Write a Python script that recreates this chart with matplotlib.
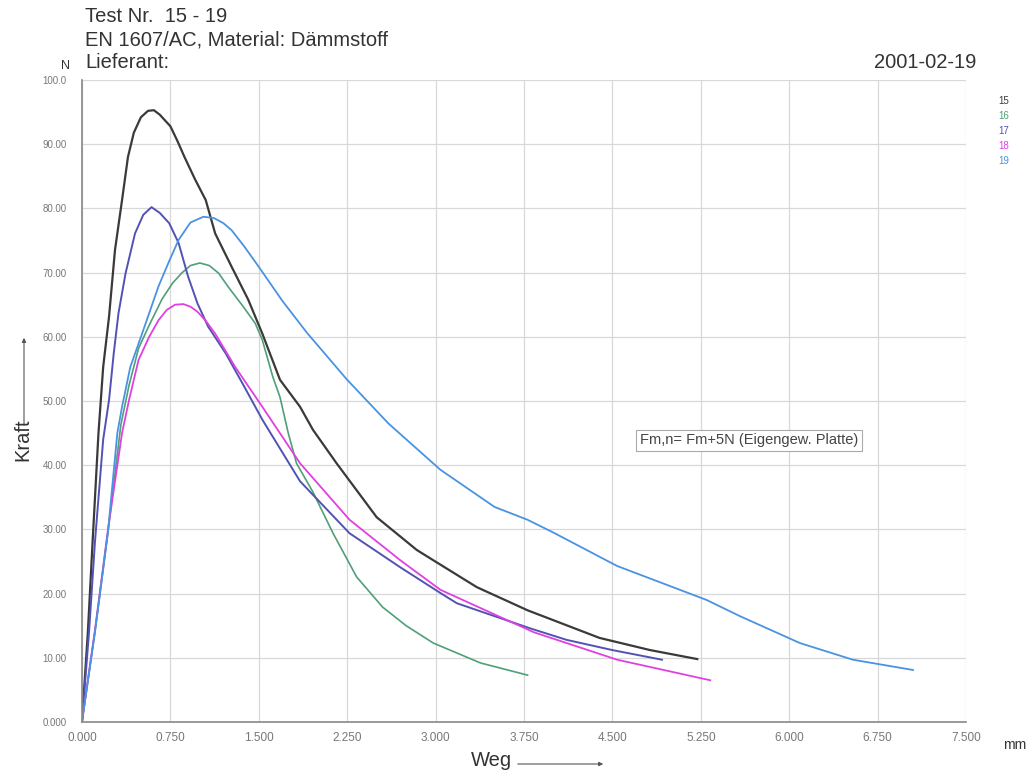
import matplotlib
matplotlib.use("Agg")
import matplotlib.pyplot as plt

plt.rcParams['font.family'] = ['Liberation Sans', 'DejaVu Sans']

# Kraft-Weg Kurven, Test 15 - 19
x15 = [0, 0.05, 0.09, 0.14, 0.18, 0.23, 0.28, 0.34, 0.39, 0.44, 0.50, 0.56, 0.61, 0.66, 0.75,
       0.81, 0.87, 0.96, 1.05, 1.13, 1.27, 1.41, 1.53, 1.68, 1.85, 1.96, 2.16, 2.50, 2.84, 2.98,
       3.35, 3.78, 4.39, 4.82, 5.22]
y15 = [0, 14.0, 28.0, 45.0, 55.3, 63.2, 73.5, 81.3, 88.0, 91.8, 94.2, 95.2, 95.3, 94.6, 92.8,
       90.5, 88.0, 84.5, 81.3, 76.1, 70.9, 65.8, 60.5, 53.3, 49.1, 45.5, 40.3, 31.9, 26.8, 25.2,
       21.0, 17.4, 13.1, 11.2, 9.8]

x16 = [0, 0.11, 0.22, 0.33, 0.40, 0.48, 0.57, 0.68, 0.77, 0.85, 0.92, 1.00, 1.08, 1.16, 1.24,
       1.36, 1.47, 1.53, 1.62, 1.68, 1.75, 1.82, 1.96, 2.13, 2.33, 2.55, 2.75, 2.98, 3.38, 3.78]
y16 = [0, 14.0, 29.5, 46.3, 52.5, 58.2, 61.8, 65.9, 68.4, 70.0, 71.1, 71.5, 71.1, 69.9, 67.8,
       64.9, 62.1, 59.5, 53.7, 50.6, 45.0, 40.3, 35.8, 29.4, 22.6, 17.9, 15.0, 12.3, 9.2, 7.3]

x17 = [0, 0.06, 0.11, 0.18, 0.23, 0.27, 0.31, 0.37, 0.45, 0.52, 0.59, 0.66, 0.74, 0.82, 0.90,
       0.98, 1.07, 1.22, 1.36, 1.53, 1.85, 2.27, 2.70, 3.04, 3.18, 3.80, 4.11, 4.50, 4.92]
y17 = [0, 14.0, 28.0, 44.0, 50.2, 57.5, 63.7, 69.9, 76.1, 79.0, 80.2, 79.3, 77.7, 74.6, 69.4,
       65.2, 61.6, 57.4, 52.8, 47.1, 37.5, 29.4, 24.1, 20.1, 18.5, 14.6, 12.8, 11.2, 9.7]

x18 = [0, 0.11, 0.22, 0.34, 0.40, 0.48, 0.57, 0.65, 0.72, 0.79, 0.86, 0.92, 0.98, 1.05, 1.13,
       1.30, 1.53, 1.85, 2.27, 2.70, 3.04, 3.83, 4.54, 5.33]
y18 = [0, 14.3, 29.9, 45.0, 50.2, 56.4, 60.0, 62.6, 64.2, 65.0, 65.1, 64.7, 63.9, 62.5, 60.5,
       55.3, 49.1, 40.3, 31.5, 25.2, 20.6, 14.0, 9.7, 6.5]

x19 = [0, 0.11, 0.22, 0.30, 0.34, 0.41, 0.51, 0.65, 0.74, 0.82, 0.92, 1.03, 1.12, 1.20, 1.27,
       1.38, 1.50, 1.70, 1.91, 2.25, 2.60, 3.04, 3.50, 3.78, 4.00, 4.54, 5.30, 5.58, 6.09, 6.54,
       7.05]
y19 = [0, 14.0, 29.5, 45.0, 49.1, 55.3, 60.5, 67.9, 71.8, 75.1, 77.8, 78.7, 78.5, 77.7, 76.6,
       74.0, 70.9, 65.6, 60.6, 53.3, 46.5, 39.3, 33.5, 31.5, 29.5, 24.3, 19.0, 16.5, 12.3, 9.7,
       8.1]

serien = [("15", x15, y15, "#3a3a3a", 1.6),
          ("16", x16, y16, "#4f9f78", 1.2),
          ("17", x17, y17, "#5252b4", 1.4),
          ("18", x18, y18, "#e040e0", 1.3),
          ("19", x19, y19, "#4a92e2", 1.3)]

x_ticks = [0, 0.75, 1.5, 2.25, 3.0, 3.75, 4.5, 5.25, 6.0, 6.75, 7.5]
y_ticks = [0, 10, 20, 30, 40, 50, 60, 70, 80, 90, 100]
y_labels = ["0.000", "10.00", "20.00", "30.00", "40.00", "50.00",
            "60.00", "70.00", "80.00", "90.00", "100.0"]

fig = plt.figure(figsize=(10.31, 7.74), dpi=100)
ax = fig.add_axes([0.0795, 0.0672, 0.8575, 0.8294])

for name, xs, ys, col, lw in serien:
    ax.plot(xs, ys, color=col, lw=lw, solid_joinstyle='round')

ax.set_xlim(0, 7.5)
ax.set_ylim(0, 100)
ax.set_xticks(x_ticks)
ax.set_xticklabels(["%.3f" % v for v in x_ticks])
ax.set_yticks(y_ticks)
ax.set_yticklabels(y_labels)
ax.tick_params(length=0, colors='#777777')
ax.tick_params(axis='x', labelsize=8.5, pad=7)
ax.tick_params(axis='y', labelsize=7, pad=11)
ax.grid(True, color='#d8d8d8', lw=0.9)
for s in ['top', 'right']:
    ax.spines[s].set_visible(False)
for s in ['left', 'bottom']:
    ax.spines[s].set_color('#888888')
    ax.spines[s].set_linewidth(1.2)

# Kopfzeilen
kopf = dict(fontsize=14.5, color='#333333', va='center')
fig.text(85 / 1031, 1 - 16 / 774, "Test Nr.  15 - 19", **kopf)
fig.text(85 / 1031, 1 - 40 / 774, "EN 1607/AC, Material: Dämmstoff", **kopf)
fig.text(85 / 1031, 1 - 63 / 774, "Lieferant:", **kopf)
fig.text(976 / 1031, 1 - 63 / 774, "2001-02-19", ha='right', **kopf)
fig.text(66 / 1031, 1 - 66 / 774, "N", fontsize=9, color='#333333', va='center', ha='center')
fig.text(1015 / 1031, 1 - 745 / 774, "mm", fontsize=10, color='#333333', va='center', ha='center')

# Achsbeschriftung mit Pfeilen
fig.text(491 / 1031, 1 - 760 / 774, "Weg", fontsize=14.5, color='#333333', va='center', ha='center')
fig.text(23 / 1031, 1 - 440 / 774, "Kraft", fontsize=14.5, color='#333333', va='center', ha='center',
         rotation=90)
fig.add_artist(matplotlib.patches.FancyArrowPatch(
    (515 / 1031, 1 - 764 / 774), (606 / 1031, 1 - 764 / 774), transform=fig.transFigure,
    arrowstyle='-|>', mutation_scale=6, color='#555555', lw=0.8))
fig.add_artist(matplotlib.patches.FancyArrowPatch(
    (24 / 1031, 1 - 428 / 774), (24 / 1031, 1 - 335 / 774), transform=fig.transFigure,
    arrowstyle='-|>', mutation_scale=6, color='#555555', lw=0.8))

# Legende (Nummern)
for i, (name, xs, ys, col, lw) in enumerate(serien):
    fig.text(1004 / 1031, 1 - (101 + 15 * i) / 774, name, fontsize=7, color=col,
             va='center', ha='center')

ax.text(5.66, 43.9, "Fm,n= Fm+5N (Eigengew. Platte)", fontsize=10.5, color='#444444',
        ha='center', va='center',
        bbox=dict(boxstyle='square,pad=0.25', fc='white', ec='#aaaaaa', lw=0.8))

plt.savefig('out.png', dpi=100)
